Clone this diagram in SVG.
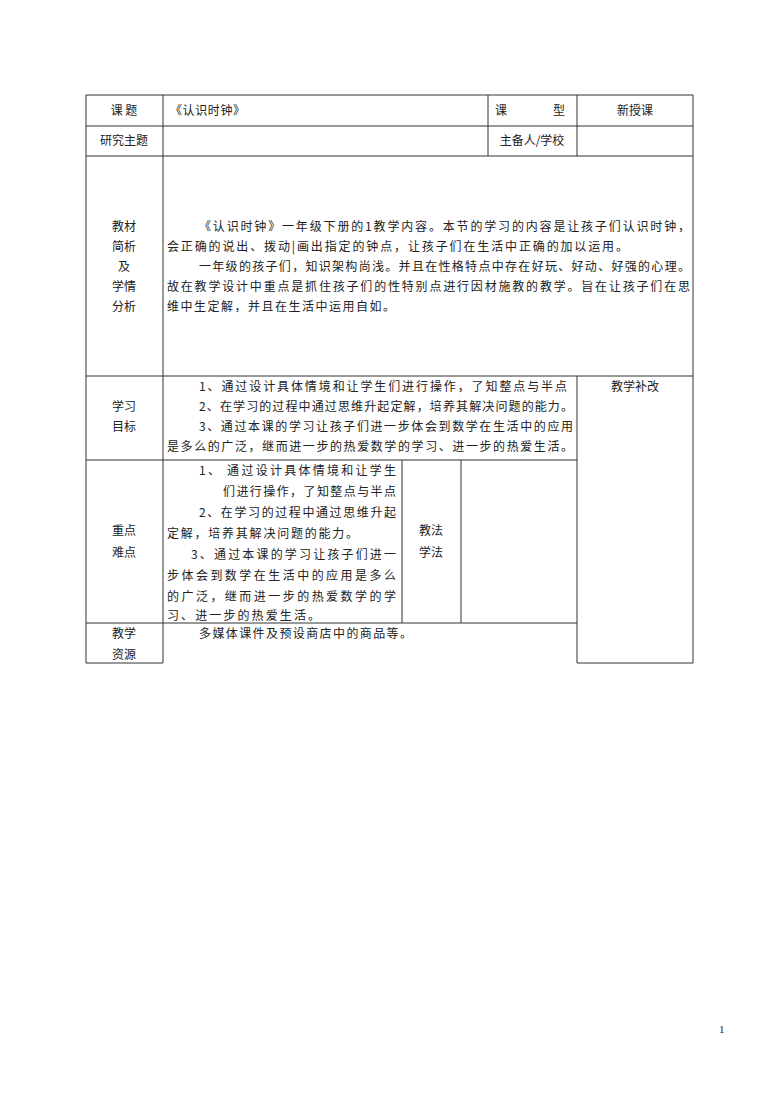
<svg xmlns="http://www.w3.org/2000/svg" width="780" height="1103" viewBox="0 0 780 1103">
<style>
text{font-family:"Noto Sans CJK SC","Liberation Serif",serif;font-size:12px;fill:#222}
.c{text-anchor:middle}
line{stroke:#333;stroke-width:1}
</style>
<rect width="780" height="1103" fill="#fff"/>
<g id="grid">
<line x1="86" y1="95" x2="693" y2="95"/>
<line x1="86" y1="126" x2="693" y2="126"/>
<line x1="86" y1="156" x2="693" y2="156"/>
<line x1="86" y1="376" x2="693" y2="376"/>
<line x1="86" y1="460" x2="577" y2="460"/>
<line x1="86" y1="623" x2="577" y2="623"/>
<line x1="86" y1="663" x2="163" y2="663"/>
<line x1="577" y1="663" x2="693" y2="663"/>
<line x1="86" y1="95" x2="86" y2="663"/>
<line x1="163" y1="95" x2="163" y2="663"/>
<line x1="488" y1="95" x2="488" y2="156"/>
<line x1="577" y1="95" x2="577" y2="156"/>
<line x1="577" y1="376" x2="577" y2="663"/>
<line x1="693" y1="95" x2="693" y2="663"/>
<line x1="402" y1="460" x2="402" y2="623"/>
<line x1="461" y1="460" x2="461" y2="623"/>
</g>
<g id="row1">
<text x="124" y="115" class="c">课  题</text>
<text x="170" y="115" textLength="75">《认识时钟》</text>
<text x="495" y="115">课</text>
<text x="565" y="115" text-anchor="end">型</text>
<text x="635" y="115" class="c">新授课</text>
</g>
<g id="row2">
<text x="124" y="145" class="c">研究主题</text>
<text x="532" y="145" class="c">主备人/学校</text>
</g>
<g id="row3">
<text x="124" y="231" class="c">教材</text>
<text x="124" y="251" class="c">简析</text>
<text x="124" y="271" class="c">及</text>
<text x="124" y="291" class="c">学情</text>
<text x="124" y="311" class="c">分析</text>
<text x="199" y="231" textLength="491">《认识时钟》一年级下册的1教学内容。本节的学习的内容是让孩子们认识时钟，</text>
<text x="167" y="251" textLength="461">会正确的说出、拨动|画出指定的钟点，让孩子们在生活中正确的加以运用。</text>
<text x="199" y="271" textLength="491">一年级的孩子们，知识架构尚浅。并且在性格特点中存在好玩、好动、好强的心理。</text>
<text x="167" y="291" textLength="523">故在教学设计中重点是抓住孩子们的性特别点进行因材施教的教学。旨在让孩子们在思</text>
<text x="167" y="311" textLength="228">维中生定解，并且在生活中运用自如。</text>
</g>
<g id="row4">
<text x="124" y="411" class="c">学习</text>
<text x="124" y="431" class="c">目标</text>
<text x="199" y="391" textLength="368">1、通过设计具体情境和让学生们进行操作，了知整点与半点</text>
<text x="199" y="411" textLength="374">2、在学习的过程中通过思维升起定解，培养其解决问题的能力。</text>
<text x="199" y="431" textLength="374">3、通过本课的学习让孩子们进一步体会到数学在生活中的应用</text>
<text x="167" y="451" textLength="406">是多么的广泛，继而进一步的热爱数学的学习、进一步的热爱生活。</text>
<text x="635" y="391" class="c">教学补改</text>
</g>
<g id="row5">
<text x="124" y="535" class="c">重点</text>
<text x="124" y="557" class="c">难点</text>
<text x="431" y="535" class="c">教法</text>
<text x="431" y="557" class="c">学法</text>
<text x="199" y="475" textLength="197">1、 通过设计具体情境和让学生</text>
<text x="223" y="496" textLength="173">们进行操作，了知整点与半点</text>
<text x="199" y="517" textLength="197">2、在学习的过程中通过思维升起</text>
<text x="167" y="538" textLength="191">定解，培养其解决问题的能力。</text>
<text x="191" y="559" textLength="205">3、通过本课的学习让孩子们进一</text>
<text x="167" y="580" textLength="229">步体会到数学在生活中的应用是多么</text>
<text x="167" y="601" textLength="229">的广泛，继而进一步的热爱数学的学</text>
<text x="167" y="620" textLength="153">习、进一步的热爱生活。</text>
</g>
<g id="row6">
<text x="124" y="638" class="c">教学</text>
<text x="124" y="659" class="c">资源</text>
<text x="199" y="638" textLength="213">多媒体课件及预设商店中的商品等。</text>
</g>
<text x="719" y="1033" style="font-family:'Liberation Serif',serif;font-size:11px">1</text>
</svg>
